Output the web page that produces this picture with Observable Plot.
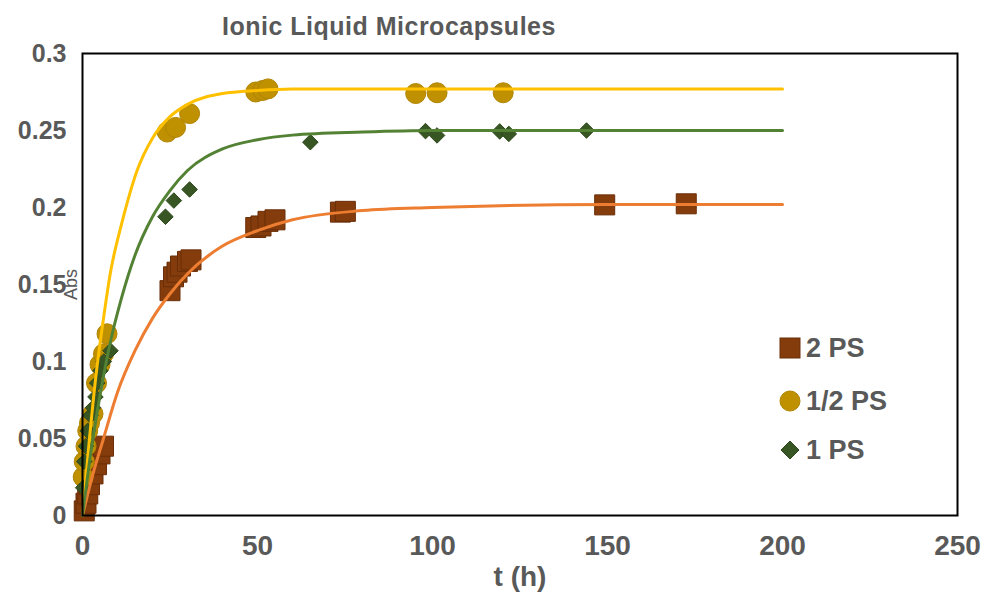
<!DOCTYPE html>
<html>
<head>
<meta charset="utf-8">
<script src="https://cdn.jsdelivr.net/npm/d3@7"></script>
<script src="https://cdn.jsdelivr.net/npm/@observablehq/plot@0.6"></script>
<style>
  body { margin: 0; background: #fff; }
  #wrap { position: relative; width: 983px; height: 592px; font-family: "Liberation Sans", Arial, sans-serif; }
  #title { position: absolute; left: 222px; top: 12px; font-size: 25px; letter-spacing: 0.5px; font-weight: bold; color: #595959; white-space: nowrap; }
  .leg { position: absolute; left: 778px; display: flex; align-items: center; font-size: 27px; font-weight: bold; color: #595959; white-space: nowrap; }
  .leg svg { margin-right: 4px; }
</style>
</head>
<body>
<div id="wrap">
  <div id="title">Ionic Liquid Microcapsules</div>
</div>
<script>
// ---- Data ----
const chartTitle = "Ionic Liquid Microcapsules";
const xLabel = "t (h)";
const yLabel = "Abs";
const xTicks = [0, 50, 100, 150, 200, 250];
const yTicks = [0, 0.05, 0.1, 0.15, 0.2, 0.25, 0.3];
const seriesNames = ["2 PS", "1/2 PS", "1 PS"];

// 2 PS (squares)
const t2PS   = [0.5, 1, 1.5, 2, 3, 4, 5, 6, 25, 26, 27, 28, 30, 31, 49.5, 51, 53, 55, 73.7, 75.1, 149.2, 172.5];
const abs2PS = [0.003, 0.008, 0.014, 0.02, 0.027, 0.033, 0.04, 0.045, 0.146, 0.155, 0.158, 0.162, 0.165, 0.166, 0.187, 0.188, 0.191, 0.192, 0.197, 0.1975, 0.2017, 0.2024];

// 1/2 PS (circles)
const tHalfPS   = [0.2, 0.5, 1, 1.5, 2, 3, 4, 5, 6, 7, 24.2, 26.6, 30.6, 49.5, 51.5, 53, 95.2, 101.3, 120.2];
const absHalfPS = [0.025, 0.035, 0.045, 0.055, 0.06, 0.066, 0.086, 0.098, 0.105, 0.118, 0.249, 0.252, 0.261, 0.275, 0.276, 0.277, 0.274, 0.2745, 0.2745];

// 1 PS (diamonds)
const t1PS   = [0.2, 0.5, 1, 1.5, 2.3, 3, 3.7, 4.2, 5.1, 6.1, 8, 23.7, 26.1, 30.6, 65.1, 98, 101.3, 119.2, 121.8, 144];
const abs1PS = [0.018, 0.035, 0.045, 0.055, 0.065, 0.07, 0.077, 0.086, 0.094, 0.1, 0.107, 0.194, 0.2045, 0.2117, 0.2424, 0.2496, 0.2468, 0.2494, 0.2478, 0.25];

// fitted curves
const fit2PS_t   = [0, 3, 6, 10, 15, 20, 25, 30, 40, 50, 60, 80, 100, 150, 200];
const fit2PS_y   = [0, 0.027, 0.05, 0.08, 0.107, 0.128, 0.144, 0.157, 0.175, 0.185, 0.192, 0.198, 0.2, 0.202, 0.202];
const fitHalf_t  = [0, 2, 3.7, 6, 8, 10.9, 13, 15.6, 20, 25, 30, 40, 50, 60, 100, 150, 200];
const fitHalf_y  = [0, 0.05, 0.088, 0.128, 0.158, 0.187, 0.205, 0.224, 0.245, 0.259, 0.267, 0.274, 0.276, 0.277, 0.277, 0.277, 0.277];
const fit1PS_t   = [0, 2, 5, 8, 11, 15, 20, 25, 30, 40, 50, 60, 80, 100, 150, 200];
const fit1PS_y   = [0, 0.035, 0.078, 0.113, 0.14, 0.169, 0.194, 0.211, 0.224, 0.238, 0.244, 0.247, 0.249, 0.25, 0.25, 0.25];

// ---- Styles ----
const markerFill = {"2 PS": "#843C0C", "1/2 PS": "#BF9000", "1 PS": "#375623"};
const markerStroke = {"2 PS": "#6A2E08", "1/2 PS": "#B08400", "1 PS": "#2E481D"};
const lineColor = {"2 PS": "#ED7D31", "1/2 PS": "#FFC000", "1 PS": "#548235"};

const zip = (ts, ys) => ts.map((t, i) => ({t, a: ys[i]}));
const pts2 = zip(t2PS, abs2PS), ptsH = zip(tHalfPS, absHalfPS), pts1 = zip(t1PS, abs1PS);
const fit2 = zip(fit2PS_t, fit2PS_y), fitH = zip(fitHalf_t, fitHalf_y), fit1 = zip(fit1PS_t, fit1PS_y);

const plot = Plot.plot({
  width: 983,
  height: 592,
  marginLeft: 82,
  marginRight: 26,
  marginTop: 53,
  marginBottom: 77,
  style: {fontFamily: "'Liberation Sans', Arial, sans-serif", background: "transparent", overflow: "visible"},
  x: {domain: [0, 250]},
  y: {domain: [0, 0.3]},
  marks: [
    Plot.dot(pts2, {x: "t", y: "a", symbol: "square", r: 11.3, fill: markerFill["2 PS"], stroke: markerStroke["2 PS"], strokeWidth: 1}),
    Plot.dot(ptsH, {x: "t", y: "a", symbol: "circle", r: 10, fill: markerFill["1/2 PS"], stroke: markerStroke["1/2 PS"], strokeWidth: 1}),
    Plot.dot(pts1, {x: "t", y: "a", symbol: "diamond2", r: 7, fill: markerFill["1 PS"], stroke: markerStroke["1 PS"], strokeWidth: 1}),
    Plot.line(fit2, {x: "t", y: "a", stroke: lineColor["2 PS"], strokeWidth: 3, curve: "monotone-x"}),
    Plot.line(fitH, {x: "t", y: "a", stroke: lineColor["1/2 PS"], strokeWidth: 3, curve: "monotone-x"}),
    Plot.line(fit1, {x: "t", y: "a", stroke: lineColor["1 PS"], strokeWidth: 3, curve: "monotone-x"}),
    Plot.frame({stroke: "#000", strokeWidth: 2}),
    Plot.axisY({ticks: yTicks, tickSize: 0, tickPadding: 16, tickFormat: d => String(d), fontSize: 25, fontWeight: "bold", fill: "#595959", label: null}),
    Plot.axisY({ticks: [], tickSize: 0, label: yLabel, labelAnchor: "center", labelArrow: "none", labelOffset: 18, fontSize: 18, fill: "#595959"}),
    Plot.axisX({ticks: xTicks, tickSize: 0, tickPadding: 20, tickFormat: d => String(d), fontSize: 28, fontWeight: "bold", fill: "#595959", fontFamily: "'Liberation Sans Narrow', 'Liberation Sans', Arial, sans-serif", label: null}),
    Plot.axisX({ticks: [], tickSize: 0, label: xLabel, labelAnchor: "center", labelArrow: "none", labelOffset: 70, fontSize: 28, fontWeight: "bold", fill: "#595959"})
  ]
});
document.getElementById("wrap").appendChild(plot);

// legend
const legendY = {"2 PS": 348, "1/2 PS": 401, "1 PS": 450};
const wrap = document.getElementById("wrap");
seriesNames.forEach(name => {
  const d = document.createElement("div");
  d.className = "leg";
  d.style.top = (legendY[name] - 17) + "px";
  d.style.height = "34px";
  let shape;
  if (name === "2 PS") shape = `<rect x="2" y="2" width="20" height="20" fill="${markerFill[name]}" stroke="${markerStroke[name]}"/>`;
  else if (name === "1/2 PS") shape = `<circle cx="12" cy="12" r="10" fill="${markerFill[name]}" stroke="${markerStroke[name]}"/>`;
  else shape = `<path d="M12,3 L21,12 L12,21 L3,12Z" fill="${markerFill[name]}" stroke="${markerStroke[name]}"/>`;
  d.innerHTML = `<svg width="24" height="24">${shape}</svg><span>${name}</span>`;
  wrap.appendChild(d);
});
</script>
</body>
</html>
